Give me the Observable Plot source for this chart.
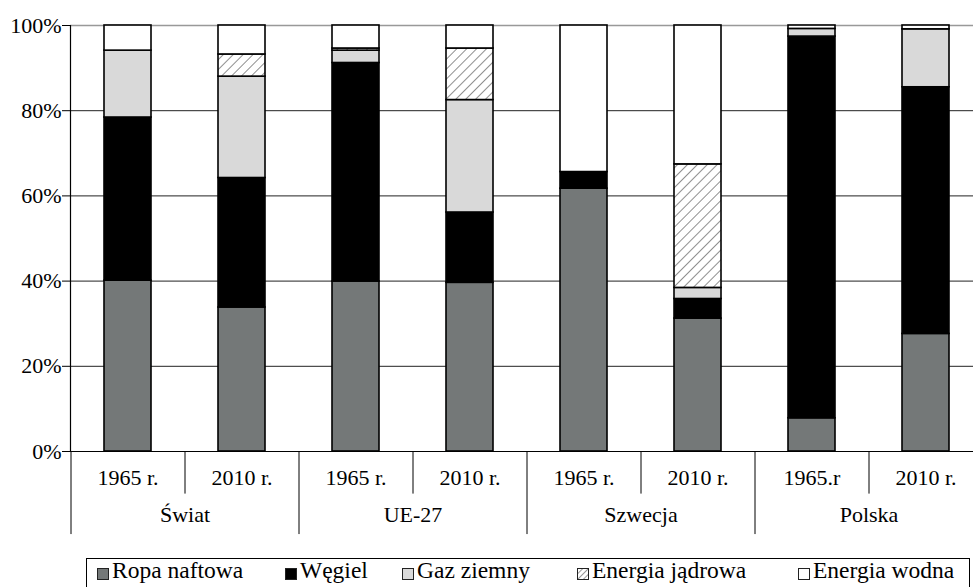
<!DOCTYPE html>
<html>
<head>
<meta charset="utf-8">
<script src="https://cdn.jsdelivr.net/npm/d3@7"></script>
<script src="https://cdn.jsdelivr.net/npm/@observablehq/plot@0.6"></script>
<style>
  html, body { margin: 0; padding: 0; background: #fff; overflow: hidden; }
  body { font-family: "Liberation Serif", "DejaVu Serif", serif; width: 973px; height: 587px; position: relative; }
  #chart { position: absolute; left: 0; top: 0; }
  #chart svg text { font-family: "Liberation Serif", "DejaVu Serif", serif; }
  #legend { position: absolute; left: 86px; top: 558px; width: 884px; height: 40px; border: 1px solid #000; box-sizing: border-box; }
  #legend .it { position: absolute; top: 0; height: 24px; font-size: 23.5px; line-height: 22px; white-space: nowrap; color: #000; font-family: "Liberation Serif", "DejaVu Serif", serif; }
  #legend .it svg { position: absolute; left: 0; top: 9px; }
  #legend .it span { position: absolute; left: 15px; top: 0; }
</style>
</head>
<body>
<svg width="0" height="0" style="position:absolute">
  <defs>
    <pattern id="hatch" patternUnits="userSpaceOnUse" width="7" height="7" patternTransform="rotate(45)">
      <rect width="7" height="7" fill="#fff"></rect>
      <line x1="0" y1="0" x2="0" y2="7" stroke="#444" stroke-width="1.2"></line>
    </pattern>
    <pattern id="hatchSmall" patternUnits="userSpaceOnUse" width="4" height="4" patternTransform="rotate(45)">
      <rect width="4" height="4" fill="#fff"></rect>
      <line x1="0" y1="0" x2="0" y2="4" stroke="#333" stroke-width="1"></line>
    </pattern>
  </defs>
</svg>
<div id="chart"></div>
<div id="legend"></div>
<script>
// ---- data ----
const groups = ["Świat", "Świat", "UE-27", "UE-27", "Szwecja", "Szwecja", "Polska", "Polska"];
const years = ["1965 r.", "2010 r.", "1965 r.", "2010 r.", "1965 r.", "2010 r.", "1965.r", "2010 r."];
const series = ["Ropa naftowa", "Węgiel", "Gaz ziemny", "Energia jądrowa", "Energia wodna"];
const ropa    = [40.1, 33.8, 39.9, 39.6, 61.7, 31.2,  7.8, 27.6];
const wegiel  = [38.3, 30.4, 51.3, 16.5,  3.9,  4.6, 89.6, 57.9];
const gaz     = [15.7, 23.8,  2.9, 26.4,  0.0,  2.6,  1.8, 13.6];
const jadrowa = [ 0.0,  5.2,  0.5, 12.1,  0.0, 29.0,  0.0,  0.0];
const wodna   = [ 5.9,  6.8,  5.4,  5.4, 34.4, 32.6,  0.8,  0.9];
const yTicks = [0, 20, 40, 60, 80, 100];

// ---- styles ----
const fills = ["#747878", "#000000", "#d9d9d9", "url(#hatch)", "#ffffff"];
const legendFills = ["#747878", "#000000", "#d9d9d9", "url(#hatchSmall)", "#ffffff"];
const legendX = [10, 198, 315, 490, 711];
const serif = "'Liberation Serif', 'DejaVu Serif', serif";

const values = [ropa, wegiel, gaz, jadrowa, wodna];
const keys = d3.range(groups.length);
const rows = [];
series.forEach((s, j) => values[j].forEach((v, i) => {
  if (v > 0) rows.push({key: i, group: groups[i], year: years[i], series: s, value: v});
}));
const subSeps = keys.filter(i => i % 2 === 1);
const groupSeps = keys.filter(i => i % 2 === 0);
const groupLabels = keys.filter(i => i % 2 === 1).map(i => ({key: i, group: groups[i]}));

const half = 57;
const chart = Plot.plot({
  width: 973,
  height: 545,
  marginLeft: 70,
  marginRight: -10,
  marginTop: 25,
  marginBottom: 94,
  style: {fontFamily: serif, fontSize: "22px", color: "#000", background: "transparent", overflow: "visible"},
  x: {domain: keys, paddingInner: 0.59, paddingOuter: 0.295},
  y: {domain: [0, 100]},
  color: {domain: series, range: fills},
  marks: [
    Plot.ruleY(yTicks.filter(d => d > 0 && d < 100), {stroke: "#222", strokeWidth: 1}),
    Plot.ruleY([100], {stroke: "#999", strokeWidth: 1.5}),
    Plot.barY(rows, {x: "key", y: "value", fill: "series", stroke: "#000", strokeWidth: 1.6}),
    Plot.ruleY([0], {stroke: "#000", strokeWidth: 1.2}),
    Plot.frame({anchor: "left", stroke: "#000", strokeWidth: 1.2}),
    Plot.axisY({ticks: yTicks, tickFormat: d => d + "%", tickSize: 8, tickPadding: 1, fontSize: 22, fontFamily: serif, label: null, stroke: "#000"}),
    Plot.axisX({tickSize: 0, tickPadding: 18, tickFormat: i => years[i], fontSize: 22, fontFamily: serif, label: null}),
    Plot.ruleX(subSeps, {x: d => d, dx: -half, y1: 0, y2: -10, stroke: "#000", strokeWidth: 1}),
    Plot.ruleX(groupSeps, {x: d => d, dx: -half, y1: 0, y2: -19.5, stroke: "#000", strokeWidth: 1}),
    Plot.text(groupLabels, {x: "key", dx: -half, text: "group", frameAnchor: "bottom", dy: 70, fontSize: 22, fontFamily: serif, fill: "#000"})
  ]
});
document.getElementById("chart").appendChild(chart);

// ---- legend ----
const legend = document.getElementById("legend");
series.forEach((s, j) => {
  const it = document.createElement("div");
  it.className = "it";
  it.style.left = legendX[j] + "px";
  it.innerHTML = `<svg width="12" height="12"><rect x="0.5" y="0.5" width="11" height="11" fill="${legendFills[j]}" stroke="#222" stroke-width="1"></rect></svg><span>${s}</span>`;
  legend.appendChild(it);
});
</script>
</body>
</html>
